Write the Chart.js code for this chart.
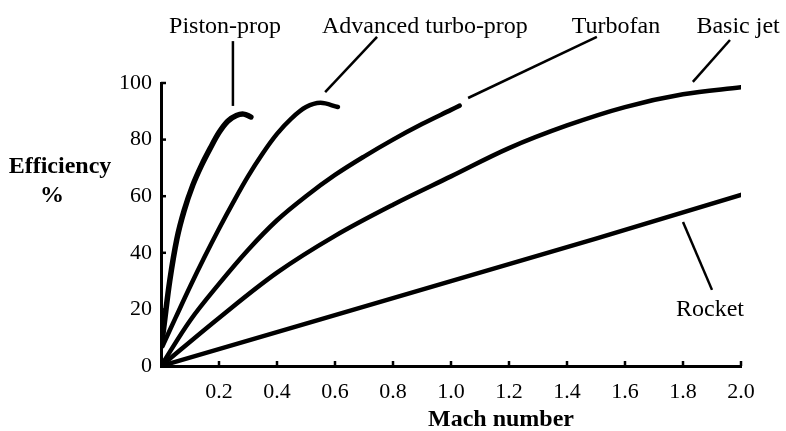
<!DOCTYPE html>
<html>
<head>
<meta charset="utf-8">
<style>
  html, body { margin: 0; padding: 0; background: #fff; }
  #wrap { width: 786px; height: 431px; position: relative; }
</style>
<script src="https://cdn.jsdelivr.net/npm/chart.js@4.4.1/dist/chart.umd.min.js"></script>
</head>
<body>
<div id="wrap"><canvas id="c" width="786" height="431"></canvas></div>
<script>
// curve data (Mach number vs efficiency %)
const pistonMach = [0.005, 0.01, 0.03, 0.055, 0.08, 0.11, 0.14, 0.17, 0.2, 0.23, 0.26, 0.285, 0.31];
const pistonEff  = [10, 14, 30, 45, 55, 64, 71, 77, 82.5, 86.5, 88.5, 89, 88];

const advMach = [0.005, 0.05, 0.1, 0.15, 0.2, 0.25, 0.3, 0.35, 0.4, 0.45, 0.5, 0.55, 0.61];
const advEff  = [7, 17, 28, 38.5, 48.5, 58, 67, 75, 82, 87.5, 91.5, 93, 91.5];

const fanMach = [0, 0.1, 0.2, 0.3, 0.4, 0.5, 0.6, 0.7, 0.8, 0.9, 1.0, 1.03];
const fanEff  = [0, 16, 29, 41, 51.5, 60, 67.5, 74, 80, 85.5, 90.5, 92];

const jetMach = [0, 0.2, 0.4, 0.6, 0.8, 1.0, 1.2, 1.4, 1.6, 1.8, 2.0];
const jetEff  = [0, 17, 33, 46, 57, 67, 77, 85, 91.5, 96, 98.5];

const rocketMach = [0, 0.5, 1.0, 1.5, 2.0];
const rocketEff  = [0, 15, 30, 45, 60.5];

const xTicks = [0.2, 0.4, 0.6, 0.8, 1.0, 1.2, 1.4, 1.6, 1.8, 2.0];
const yTicks = [0, 20, 40, 60, 80, 100];

// curve labels and their leader lines, in data units
const labelNames = ["Piston-prop", "Advanced turbo-prop", "Turbofan", "Basic jet", "Rocket"];
const labelAt    = [[0.221, 117.7], [0.910, 117.7], [1.569, 117.7], [1.99, 117.7], [1.893, 17.7]];
const leaderFrom = [[0.248, 114.8], [0.745, 116.3], [1.503, 116.3], [1.962, 115.2], [1.80, 50.9]];
const leaderTo   = [[0.248, 91.9], [0.566, 96.8], [1.059, 94.7], [1.834, 100.4], [1.90, 26.9]];

const SERIF = "'Liberation Serif', 'Times New Roman', serif";

function pts(xs, ys) {
  return xs.map((x, i) => ({ x: x, y: ys[i] }));
}

function serie(label, xs, ys, width, tension) {
  return {
    label: label,
    data: pts(xs, ys),
    borderColor: "#000",
    borderWidth: width,
    pointRadius: 0,
    fill: false,
    tension: tension,
    borderCapStyle: "round",
    borderJoinStyle: "round"
  };
}

const extras = {
  id: "extras",
  afterDraw(chart) {
    const ctx = chart.ctx;
    const xs = chart.scales.x, ys = chart.scales.y;
    const area = chart.chartArea;
    ctx.save();
    ctx.strokeStyle = "#000";
    ctx.fillStyle = "#000";

    // small inward tick marks
    ctx.lineWidth = 2.5;
    xTicks.forEach(v => {
      const px = xs.getPixelForValue(v);
      ctx.beginPath();
      ctx.moveTo(px, area.bottom);
      ctx.lineTo(px, area.bottom - 5);
      ctx.stroke();
    });
    yTicks.forEach(v => {
      if (v === 0) return;
      const py = ys.getPixelForValue(v);
      ctx.beginPath();
      ctx.moveTo(area.left, py);
      ctx.lineTo(area.left + 5, py);
      ctx.stroke();
    });

    // leader lines
    ctx.lineWidth = 2.5;
    leaderFrom.forEach((f, i) => {
      const t = leaderTo[i];
      ctx.beginPath();
      ctx.moveTo(xs.getPixelForValue(f[0]), ys.getPixelForValue(f[1]));
      ctx.lineTo(xs.getPixelForValue(t[0]), ys.getPixelForValue(t[1]));
      ctx.stroke();
    });

    // curve names
    ctx.font = "24px " + SERIF;
    ctx.textAlign = "center";
    ctx.textBaseline = "alphabetic";
    labelNames.forEach((n, i) => {
      ctx.fillText(n, xs.getPixelForValue(labelAt[i][0]), ys.getPixelForValue(labelAt[i][1]));
    });

    // axis titles
    ctx.font = "bold 24px " + SERIF;
    ctx.fillText("Efficiency", 60, 173);
    ctx.fillText("%", 52, 202);
    ctx.fillText("Mach number", (area.left + area.right) / 2 + 50, 426);
    ctx.restore();
  }
};

new Chart(document.getElementById("c"), {
  type: "line",
  data: {
    datasets: [
      serie("Piston-prop", pistonMach, pistonEff, 5.5, 0.35),
      serie("Advanced turbo-prop", advMach, advEff, 4.5, 0.35),
      serie("Turbofan", fanMach, fanEff, 4.5, 0.35),
      serie("Basic jet", jetMach, jetEff, 4.5, 0.35),
      serie("Rocket", rocketMach, rocketEff, 4.5, 0)
    ]
  },
  options: {
    responsive: false,
    animation: false,
    events: [],
    layout: { padding: { left: 0, top: 83, right: 45, bottom: 0 } },
    plugins: { legend: { display: false }, tooltip: { enabled: false } },
    scales: {
      x: {
        type: "linear",
        min: 0,
        max: 2.0,
        afterFit: s => { s.height = 65; },
        afterBuildTicks: s => { s.ticks = xTicks.map(v => ({ value: v })); },
        grid: { display: false, drawTicks: false },
        border: { display: true, color: "#000", width: 3 },
        ticks: {
          color: "#000",
          padding: 13,
          maxRotation: 0,
          font: { family: SERIF, size: 22 },
          callback: v => Number(v).toFixed(1)
        }
      },
      y: {
        type: "linear",
        min: 0,
        max: 100,
        afterFit: s => { s.width = 161; },
        afterBuildTicks: s => { s.ticks = yTicks.map(v => ({ value: v })); },
        grid: { display: false, drawTicks: false },
        border: { display: true, color: "#000", width: 3 },
        ticks: {
          color: "#000",
          padding: 9,
          font: { family: SERIF, size: 22 }
        }
      }
    }
  },
  plugins: [extras]
});
</script>
</body>
</html>
